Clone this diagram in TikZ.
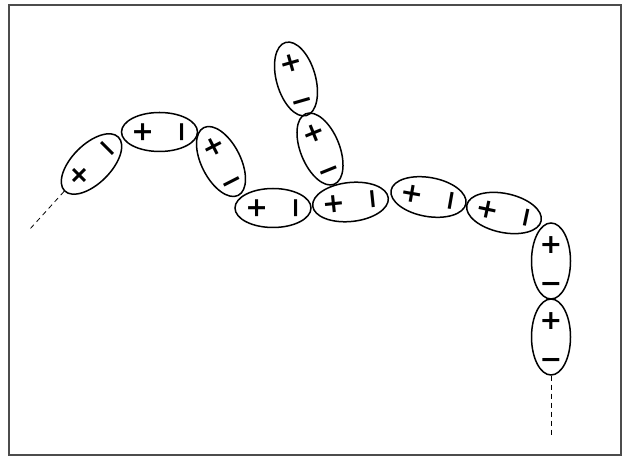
\documentclass[tikz,border=0pt]{standalone}
\usepackage{fontspec}
\newfontfamily\signfont{DejaVu Sans}
\usetikzlibrary{shapes.geometric}
\tikzset{
  cell/.style={draw, ellipse, line width=1.5pt, inner sep=0pt,
    minimum width=39pt, minimum height=76pt},
  sign/.style={font=\signfont\bfseries\fontsize{27}{27}\selectfont,
    inner sep=0pt, text height=0pt, text depth=0pt, anchor=base},
  dipole/.pic={
    \node[cell] (-cell) at (0,0) {};
    \node[sign] (-plus) at (0,17.5-9.6) {+};
    \node[sign] (-minus) at (0,-21.5-9.6) {−};
  },
  tail/.style={dashed, dash pattern=on 5pt off 4pt, line width=0.8pt}
}
\begin{document}
\begin{tikzpicture}[x=1pt,y=1pt]
\useasboundingbox (0,0) rectangle (623,457);
\draw[line width=1.5pt, black!70] (9,2) rectangle (621,452);
\pic[transform shape, rotate=135] (e1) at (91.5,293) {dipole};
\pic[transform shape, rotate=90] (e2) at (159.5,325) {dipole};
\pic[transform shape, rotate=27] (e3) at (221,295.5) {dipole};
\pic[transform shape, rotate=90] (e4) at (273,249) {dipole};
\pic[transform shape, rotate=96] (e5) at (350.5,255) {dipole};
\pic[transform shape, rotate=80] (e6) at (428.5,260) {dipole};
\pic[transform shape, rotate=78] (e7) at (504,244) {dipole};
\pic[transform shape, rotate=0] (e8) at (551,196) {dipole};
\pic[transform shape, rotate=0] (e9) at (551,120) {dipole};
\pic[transform shape, rotate=16] (e10) at (296,378) {dipole};
\pic[transform shape, rotate=22] (e11) at (320,308) {dipole};
\coordinate (leftend) at (30,228);
\coordinate (downend) at (551,19);
\draw[tail] (e1-cell.north) -- (leftend);
\draw[tail] (e9-cell.south) -- (downend);
\end{tikzpicture}
\end{document}
